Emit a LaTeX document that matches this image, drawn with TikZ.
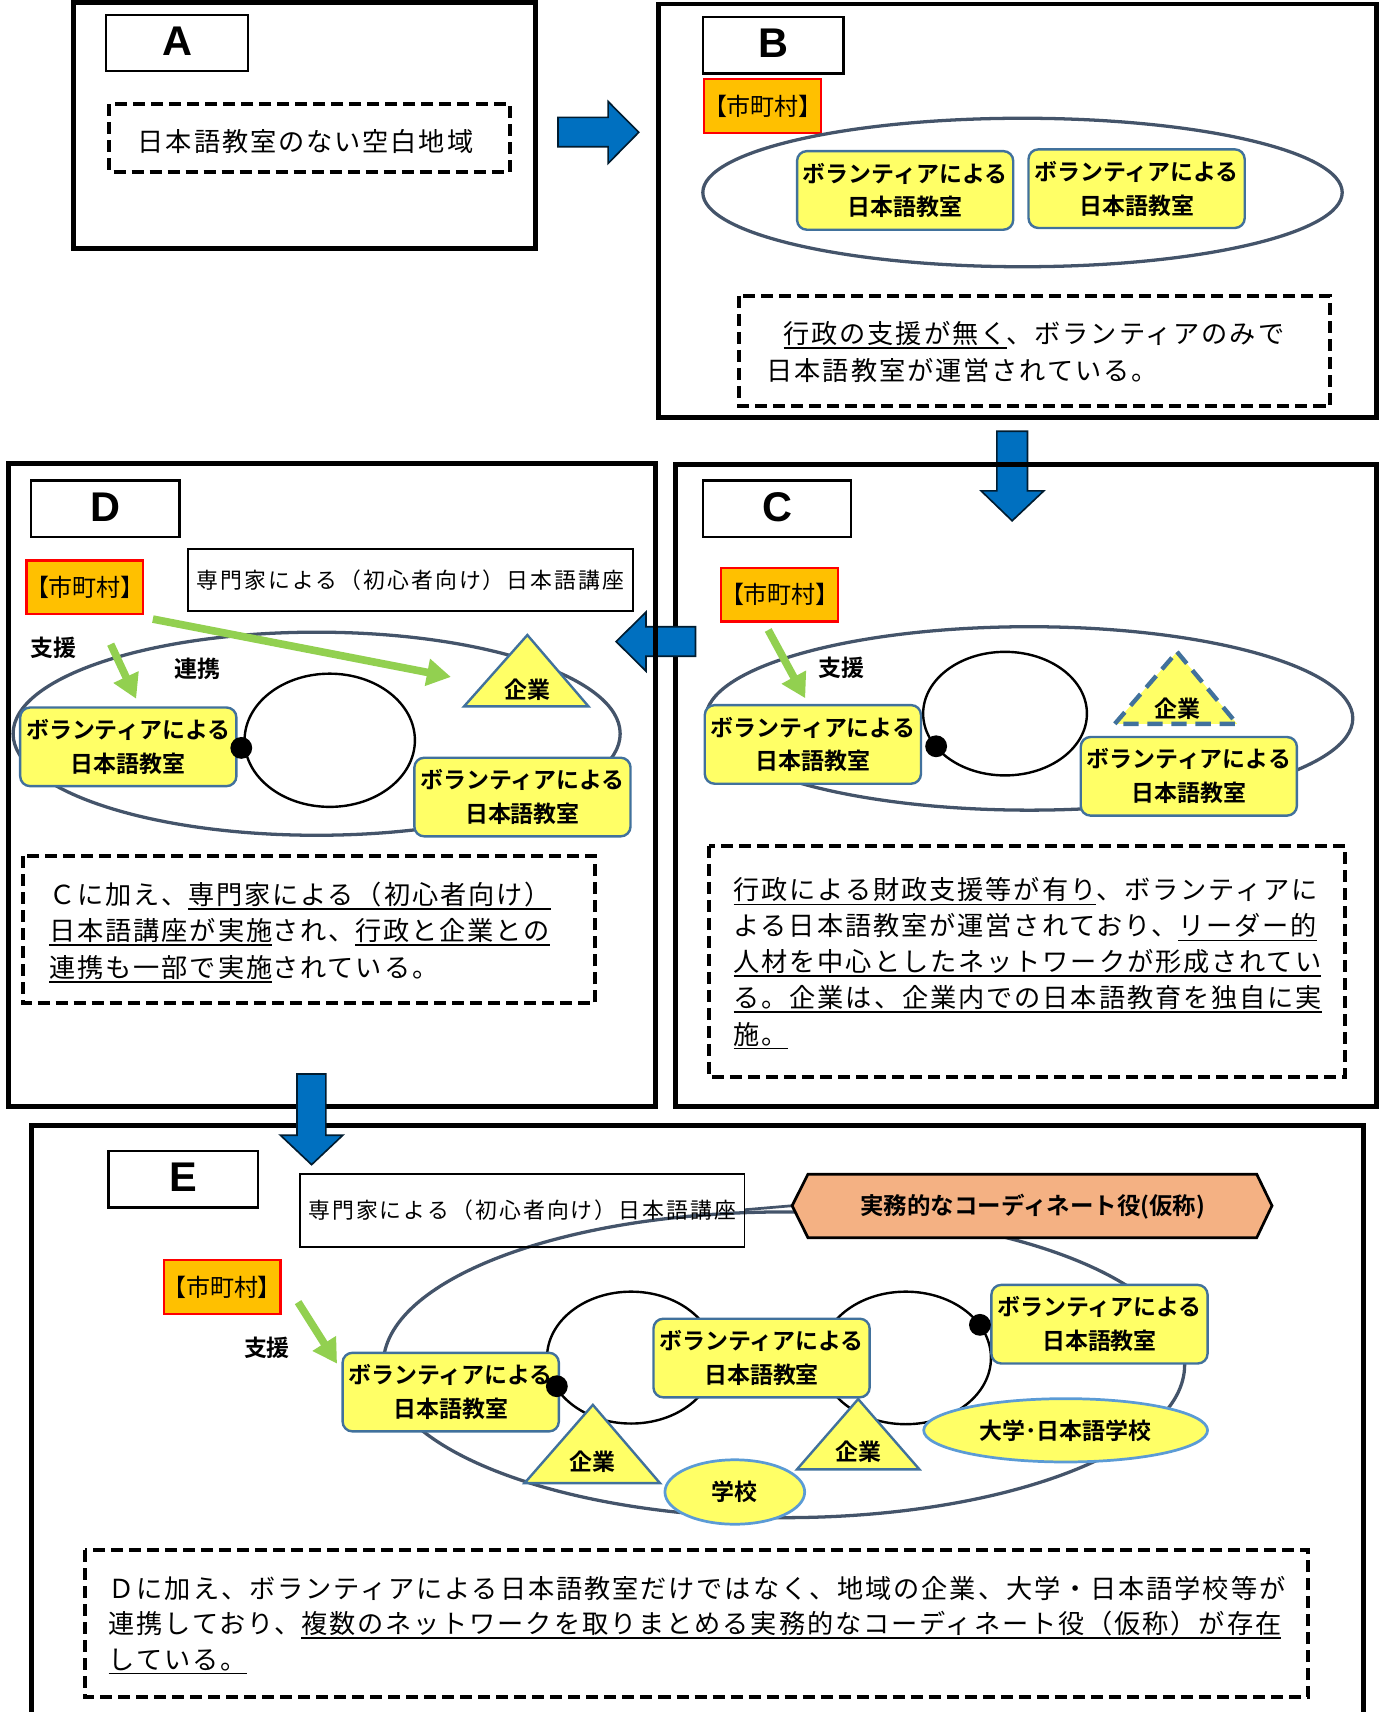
\documentclass[tikz,border=0pt]{standalone}
\usepackage{fontspec}
\usetikzlibrary{arrows.meta,shapes.geometric}
\setmainfont{Liberation Sans}
\newfontfamily\jp{Noto Sans CJK JP}[BoldFont={* Bold}]
\newfontfamily\jpt{Noto Sans CJK JP}[LetterSpace=7.3]
\newfontfamily\jps{Noto Sans CJK JP}[LetterSpace=9.7]
\newfontfamily\jpm{Noto Sans CJK JP}[RawFeature=+palt]
\newfontfamily\labf{Liberation Sans}[BoldFont={Liberation Sans Bold}]
\definecolor{yfill}{HTML}{FFFF66}
\definecolor{bbord}{HTML}{41719C}
\definecolor{ellc}{HTML}{44546A}
\definecolor{orng}{HTML}{FFC000}
\definecolor{arrb}{HTML}{0070C0}
\definecolor{grn}{HTML}{92D050}
\definecolor{hexf}{HTML}{F4B183}
\definecolor{lblue}{HTML}{5B9BD5}
\newcommand\ulx[1]{\setbox0\hbox{#1}\rlap{\rule[-5pt]{\wd0}{1.6pt}}\box0}
\tikzset{
  panel/.style={draw=black, line width=4.5pt},
  labbox/.style={draw=black, line width=2pt, minimum width=#1, minimum height=52pt, inner sep=0pt, font=\labf\bfseries\fontsize{38}{40}\selectfont},
  volbox/.style={draw=bbord, fill=yfill, line width=2.2pt, rounded corners=9pt, minimum width=198pt, minimum height=72pt, inner sep=0pt, align=center, font=\jp\bfseries\fontsize{21}{31}\selectfont},
  muni/.style={draw=red, fill=orng, line width=2pt, minimum width=107pt, minimum height=49pt, inner sep=0pt, font=\jpm\fontsize{22}{24}\selectfont},
  dbox/.style={draw=black, line width=3.5pt, dash pattern=on 11pt off 5.5pt},
  bigell/.style={draw=ellc, line width=3pt},
  ring/.style={draw=black, line width=2.2pt},
  tri/.style={draw=bbord, fill=yfill, line width=2.2pt},
  garrow/.style={draw=grn, line width=7pt, -{Triangle[length=22pt,width=24pt]}},
  barrow/.style={fill=arrb, draw=black!75!arrb, line width=1.5pt},
  bodytxt/.style={anchor=base west, inner sep=0pt, font=\jpt\fontsize{24}{30}\selectfont},
  boldlab/.style={inner sep=0pt, font=\jp\bfseries\fontsize{21}{24}\selectfont},
  kouza/.style={draw=black, line width=1.6pt, inner sep=0pt, font=\jps\fontsize{20}{22}\selectfont},
  smell/.style={ellipse, draw=lblue, fill=yfill, line width=2.5pt, inner sep=0pt, font=\jp\bfseries\fontsize{21}{24}\selectfont},
}
\begin{document}
\begin{tikzpicture}[x=1pt,y=-1pt]
\useasboundingbox (0,0) rectangle (1270,1568);

% ---------------- Panel A
\draw[panel] (67.5,2.4) rectangle (490.7,227.5);
\node[labbox=129.6pt] (la) at (162.2,39.4) {\raisebox{3pt}{A}};
\draw[dbox] (100,95.3) rectangle (467,157.3);
\node[bodytxt] (ta) at (126,139) {日本語教室のない空白地域};

% arrow A -> B
\draw[barrow] (511,107.5) -- (557,107.5) -- (557,93) -- (585,121.2) -- (557,149.6) -- (557,134.4) -- (511,134.4) -- cycle;

% ---------------- Panel B
\draw[panel] (603,3.7) rectangle (1260.5,382.6);
\node[labbox=129pt] (lb) at (708,41.3) {\raisebox{3pt}{B}};
\node[muni] (mb) at (698.4,97) {【市町村】};
\draw[bigell] (936.5,176.3) ellipse [x radius=292.8pt, y radius=68pt];
\node[volbox] (vb1) at (829,174.4) {ボランティアによる\\日本語教室};
\node[volbox] (vb2) at (1041,172.8) {ボランティアによる\\日本語教室};
\draw[dbox] (677,271) rectangle (1218.4,372);
\node[bodytxt] (tb1) at (717.4,314.2) {\ulx{行政の支援が無く}、ボランティアのみで};
\node[bodytxt] (tb2) at (702,348.2) {日本語教室が運営されている。};

% arrow B -> C
\draw[barrow] (913,395) -- (941,395) -- (941,449.6) -- (956,449.6) -- (927,477) -- (898.6,449.6) -- (913,449.6) -- cycle;

% ---------------- Panel C
\draw[panel] (618.8,425.7) rectangle (1261,1013.6);
\node[labbox=135.6pt] (lc) at (711.8,466) {\raisebox{3pt}{C}};
\node[muni] (mc) at (714,544.8) {【市町村】};
\draw[bigell] (942.7,658) ellipse [x radius=296.3pt, y radius=84pt];
\draw[ring] (920.5,653.6) ellipse [x radius=75pt, y radius=56.6pt];
\draw[tri, dash pattern=on 14pt off 8pt, line width=4pt] (1078,597) -- (1133,663) -- (1021,663) -- cycle;
\node[boldlab] (kc) at (1078,649) {企業};
\node[volbox] (vc1) at (744.5,681.8) {ボランティアによる\\日本語教室};
\node[volbox] (vc2) at (1088.8,711) {ボランティアによる\\日本語教室};
\fill (857.4,683.5) circle [radius=10pt];
\coordinate (cga1) at (703.6,577);
\coordinate (cga2) at (737.5,639.5);
\draw[garrow] (cga1) -- (cga2);
\node[boldlab] (sc) at (771,612) {支援};
\draw[dbox] (649.5,774.6) rectangle (1232,986.6);
\node[bodytxt] (tc1) at (671.6,824.2) {\ulx{行政による財政支援等が有り}、ボランティアに};
\node[bodytxt] (tc2) at (671.6,857.2) {よる日本語教室が運営されており、\ulx{リーダー的}};
\node[bodytxt] (tc3) at (671.6,889.9) {\ulx{人材を中心としたネットワークが形成されてい}};
\node[bodytxt] (tc4) at (671.6,922.6) {\ulx{る。企業は、企業内での日本語教育を独自に実}};
\node[bodytxt] (tc5) at (671.6,956.2) {\ulx{施。}};

% arrow C -> D
\draw[barrow] (637,574) -- (637,601) -- (591.7,601) -- (591.7,614.7) -- (564.3,587.6) -- (591.7,560.6) -- (591.7,574) -- cycle;

% ---------------- Panel D
\draw[panel] (7.4,424.6) rectangle (600,1013.6);
\node[labbox=135.8pt] (ld) at (96.5,466) {\raisebox{3pt}{D}};
\node[muni] (md) at (77.7,537.8) {【市町村】};
\node[kouza, minimum width=408pt, minimum height=56.5pt] (kd) at (375.9,531.3) {専門家による（初心者向け）日本語講座};
\draw[bigell] (290,672) ellipse [x radius=278pt, y radius=93pt];
\draw[ring] (302,678) ellipse [x radius=78pt, y radius=61pt];
\draw[tri] (483,581.6) -- (539,647) -- (425,647) -- cycle;
\node[boldlab] (kdd) at (483.5,632) {企業};
\node[volbox] (vd1) at (117.5,684) {ボランティアによる\\日本語教室};
\node[volbox] (vd2) at (478.5,730) {ボランティアによる\\日本語教室};
\fill (221,685) circle [radius=10pt];
\coordinate (dga1) at (101.4,590);
\coordinate (dga2) at (124.7,640);
\draw[garrow] (dga1) -- (dga2);
\coordinate (dgb1) at (140,567);
\coordinate (dgb2) at (413,620);
\draw[garrow] (dgb1) -- (dgb2);
\node[boldlab] (sd) at (49,593) {支援};
\node[boldlab] (rd) at (181,613) {連携};
\draw[dbox] (21,784) rectangle (545,919);
\node[bodytxt] (td1) at (45,828.2) {Ｃに加え、\ulx{専門家による（初心者向け）}};
\node[bodytxt] (td2) at (45,861.2) {\ulx{日本語講座が実施}され、\ulx{行政と企業との}};
\node[bodytxt] (td3) at (45,894.9) {\ulx{連携も一部で実施}されている。};

% ---------------- Panel E
\draw[panel] (28.6,1031) rectangle (1248.7,1590);
\node[labbox=136.6pt] (le) at (167.7,1080) {\raisebox{3pt}{E}};
\node[muni] (me) at (203.4,1178.8) {【市町村】};
\coordinate (hexw) at (725.5,1104.3);
\draw[draw=ellc, line width=2.5pt] (682,1108) -- (hexw);
\draw[bigell] (718,1250) ellipse [x radius=367pt, y radius=140pt];
\draw[ring] (578,1243.4) ellipse [x radius=77pt, y radius=60.4pt];
\draw[ring] (829.6,1243.7) ellipse [x radius=78pt, y radius=60.7pt];
\draw[tri] (543,1286.7) -- (604.4,1358.3) -- (480.5,1358.3) -- cycle;
\node[boldlab] (ke1) at (542.6,1339) {企業};
\draw[tri] (786,1281.4) -- (842,1345.7) -- (730,1345.7) -- cycle;
\node[boldlab] (ke2) at (786,1330) {企業};
\node[volbox] (ve1) at (412.8,1275) {ボランティアによる\\日本語教室};
\node[volbox] (ve2) at (697.5,1243.8) {ボランティアによる\\日本語教室};
\node[volbox] (ve3) at (1007,1212.8) {ボランティアによる\\日本語教室};
\fill (510,1269.6) circle [radius=10pt];
\fill (897.5,1213.4) circle [radius=10pt];
\node[smell, minimum width=128pt, minimum height=59pt] (gk) at (673,1366.5) {学校};
\node[smell, minimum width=260pt, minimum height=58pt] (dg) at (976,1310) {大学･日本語学校};
\node[kouza, minimum width=407pt, minimum height=66.4pt] (ke) at (478.4,1108.6) {専門家による（初心者向け）日本語講座};
\draw[fill=hexf, draw=black, line width=2.5pt] (hexw) -- (740,1075.4) -- (1151,1075.4) -- (1165,1104.3) -- (1151,1133.6) -- (740,1133.6) -- cycle;
\node[boldlab, font=\jp\bfseries\fontsize{21.5}{24}\selectfont] (hx) at (946,1105) {実務的なコーディネート役(仮称)};
\coordinate (ega1) at (273,1192.6);
\coordinate (ega2) at (308.7,1249);
\draw[garrow] (ega1) -- (ega2);
\node[boldlab] (se) at (244.5,1234) {支援};
\draw[dbox] (77.7,1419.9) rectangle (1198,1554.5);
\node[bodytxt] (te1) at (99.4,1463.9) {Ｄに加え、ボランティアによる日本語教室だけではなく、地域の企業、大学・日本語学校等が};
\node[bodytxt] (te2) at (99.4,1496.2) {連携しており、\ulx{複数のネットワークを取りまとめる実務的なコーディネート役（仮称）が存在}};
\node[bodytxt] (te3) at (99.4,1528.6) {\ulx{している。}};

% arrow D -> E
\draw[barrow] (272,983.6) -- (298.5,983.6) -- (298.5,1039.7) -- (314,1039.7) -- (285.4,1066.7) -- (256.8,1039.7) -- (272,1039.7) -- cycle;
\end{tikzpicture}
\end{document}
